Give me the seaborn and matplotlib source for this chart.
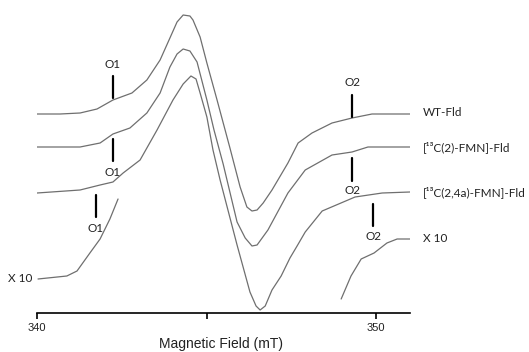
import numpy as np
import pandas as pd
import matplotlib
matplotlib.use('Agg')
import matplotlib.pyplot as plt
import seaborn as sns

# spectra: field (mT) and intensity (arbitrary units)
wt_field = [340.00, 340.68, 341.27, 341.77, 342.24, 342.80, 343.24, 343.63, 343.92, 344.13, 344.31,
            344.51, 344.60, 344.81, 345.01, 345.31, 345.69, 345.99, 346.19, 346.34, 346.49, 346.67,
            346.93, 347.40, 347.70, 348.11, 348.70, 349.29, 349.88, 351.00]
wt_int = [199, 199, 200, 204, 213, 220, 233, 253, 275, 291, 298,
          297, 293, 276, 250, 213, 165, 126, 106, 102, 103, 110,
          123, 150, 170, 180, 190, 195, 199, 199]

c2_field = [340.00, 341.27, 341.86, 342.24, 342.74, 343.24, 343.63, 343.92, 344.13, 344.31, 344.51,
            344.72, 345.01, 345.22, 345.49, 345.90, 346.14, 346.34, 346.49, 346.81, 347.40,
            347.91, 348.70, 349.29, 349.76, 351.00]
c2_int = [166, 166, 170, 179, 185, 200, 220, 246, 259, 264, 262,
          251, 213, 183, 149, 91, 75, 67, 68, 83, 120,
          143, 158, 161, 166, 166]

c3_field = [340.00, 341.27, 341.86, 342.24, 342.54, 343.04, 343.54, 344.01, 344.31, 344.54, 344.69,
            344.81, 345.01, 345.19, 345.40, 345.90, 346.28, 346.46, 346.58, 346.73, 346.93,
            347.20, 347.46, 347.67, 347.91, 348.41, 349.38, 350.18, 351.00]
c3_int = [120, 123, 128, 131, 140, 153, 183, 213, 229, 237, 234,
          220, 196, 163, 133, 68, 21, 7, 3, 7, 23,
          37, 55, 67, 81, 102, 116, 120, 121]

x10_left_field = [340.03, 340.88, 341.18, 341.56, 341.86, 342.15, 342.39]
x10_left_int = [34, 37, 42, 60, 74, 94, 114]

x10_right_field = [348.97, 349.26, 349.56, 349.94, 350.32, 350.62, 351.00]
x10_right_int = [14, 37, 54, 60, 70, 74, 74]

series_names = ['WT-Fld', '[¹³C(2)-FMN]-Fld', '[¹³C(2,4a)-FMN]-Fld']
series_label_int = [200, 166, 121]

# hyperfine markers: field, bar bottom, bar top, label height
marker_names = ['O1', 'O1', 'O1', 'O2', 'O2', 'O2']
marker_field = [342.24, 342.24, 341.74, 349.29, 349.29, 349.91]
marker_lo = [215, 152, 96, 196, 132, 87]
marker_hi = [237, 174, 118, 218, 155, 109]
marker_text = [249, 141, 85, 230, 122, 76]

sns.set_style('white')
label_font = ['Lato', 'DejaVu Sans']

fig = plt.figure(figsize=(5.29, 3.52), dpi=100)
ax = fig.add_axes([37 / 529, 39 / 352, 373 / 529, 308 / 352])

curve_color = '#6f6f6f'
for f, i in [(wt_field, wt_int), (c2_field, c2_int), (c3_field, c3_int),
             (x10_left_field, x10_left_int), (x10_right_field, x10_right_int)]:
    df = pd.DataFrame({'field': f, 'int': i})
    sns.lineplot(data=df, x='field', y='int', ax=ax, color=curve_color, lw=0.9,
                 estimator=None, sort=False)

for name, y in zip(series_names, series_label_int):
    ax.text(351.39, y, name, ha='left', va='center', fontsize=8.5, family=label_font,
            color='#222222', clip_on=False)
ax.text(339.85, x10_left_int[0], 'X 10', ha='right', va='center', fontsize=8.5,
        family=label_font, color='#222222', clip_on=False)
ax.text(351.39, x10_right_int[-1], 'X 10', ha='left', va='center', fontsize=8.5,
        family=label_font, color='#222222', clip_on=False)

for n, f, lo, hi, t in zip(marker_names, marker_field, marker_lo, marker_hi, marker_text):
    ax.plot([f, f], [lo, hi], color='black', lw=1.6)
    ax.text(f, t, n, ha='center', va='center', fontsize=8.5, family=label_font, color='#222222')

ax.set_xlim(340, 351.0)
ax.set_ylim(0, 308)
ax.set_xticks([340, 345, 350])
ax.set_xticklabels(['340', '', '350'])
ax.set_yticks([])
for s in ['left', 'top', 'right']:
    ax.spines[s].set_visible(False)
ax.spines['bottom'].set_color('black')
ax.spines['bottom'].set_linewidth(1.2)
ax.tick_params(axis='x', direction='out', length=4, width=1.2, color='black', pad=3,
               labelsize=8, labelcolor='#222222', bottom=True)
for lab in ax.get_xticklabels():
    lab.set_family('Liberation Sans')
ax.set_xlabel('Magnetic Field (mT)', fontsize=10, family='Liberation Sans', color='#222222')
ax.xaxis.set_label_coords((221 - 37) / 373, (313 - 337) / 308)
ax.set_ylabel('')

fig.savefig('out.png', dpi=100)
